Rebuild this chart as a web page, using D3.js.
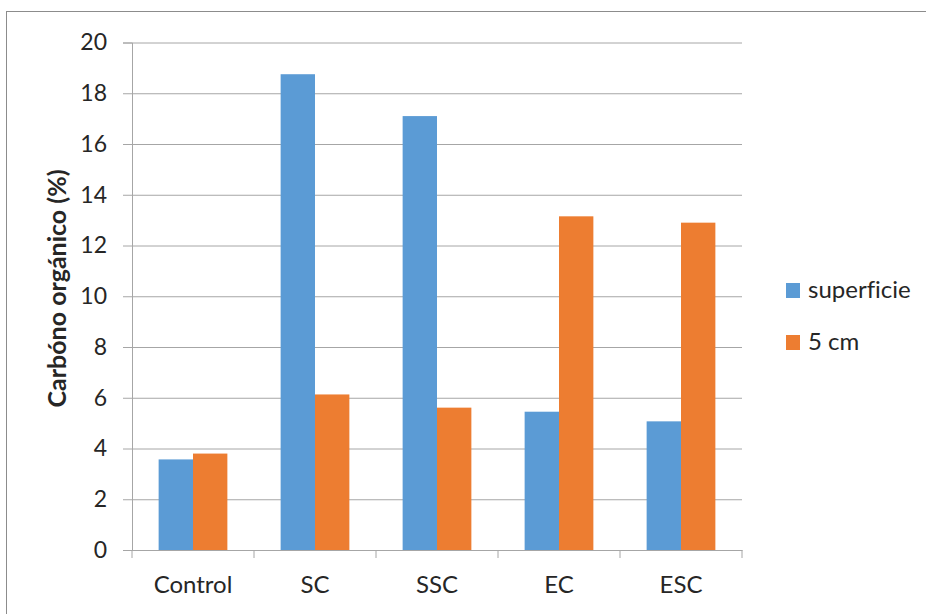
<!DOCTYPE html>
<html>
<head>
<meta charset="utf-8">
<script src="https://cdn.jsdelivr.net/npm/d3@7"></script>
<style>
  html, body { margin: 0; padding: 0; background: #fff; }
  svg { display: block; }
  text { font-family: Lato, "Open Sans", sans-serif; fill: #262626; font-variant-ligatures: none; }
</style>
</head>
<body>
<svg id="chart" width="926" height="614"></svg>
<script>
// Organic carbon by treatment, at the surface and at 5 cm depth
const categories = ["Control", "SC", "SSC", "EC", "ESC"];
const seriesNames = ["superficie", "5 cm"];
const superficie = [3.57, 18.75, 17.1, 5.45, 5.07];
const cm5 = [3.8, 6.13, 5.61, 13.15, 12.9];
const yTicks = [0, 2, 4, 6, 8, 10, 12, 14, 16, 18, 20];
const colors = ["#5B9BD5", "#ED7D31"];

const svg = d3.select("#chart");
const plot = { left: 132, right: 742, top: 42.5, bottom: 550 };
const gridColor = "#a6a6a6";
const fontStack = "Lato, 'Open Sans', sans-serif";

// chart frame
svg.append("rect")
  .attr("x", 6.5).attr("y", 11.5)
  .attr("width", 1000).attr("height", 1000)
  .attr("fill", "none").attr("stroke", "#8c8c8c").attr("stroke-width", 1);

const x0 = d3.scaleBand().domain(categories).range([plot.left, plot.right]).padding(0);
const x1 = d3.scaleBand().domain(seriesNames).range([0, x0.bandwidth()]).paddingInner(0).paddingOuter(0.775);
const y = d3.scaleLinear().domain([0, 20]).range([plot.bottom, plot.top]);

// value axis with horizontal gridlines
const yAxis = svg.append("g")
  .attr("transform", `translate(${plot.left},0)`)
  .call(d3.axisLeft(y).tickValues(yTicks).tickSize(9).tickPadding(16).tickFormat(d3.format("d")));
yAxis.select(".domain").attr("stroke", gridColor);
yAxis.selectAll(".tick line").attr("stroke", gridColor);
yAxis.selectAll(".tick").append("line")
  .attr("x1", 0).attr("x2", plot.right - plot.left)
  .attr("stroke", gridColor);
yAxis.selectAll("text").attr("font-size", 23).attr("fill", "#262626")
  .style("font-family", fontStack);

// bars
const groups = svg.append("g").selectAll("g")
  .data(categories)
  .join("g")
  .attr("transform", d => `translate(${x0(d)},0)`);

groups.selectAll("rect")
  .data((d, i) => [
    { s: seriesNames[0], v: superficie[i] },
    { s: seriesNames[1], v: cm5[i] }
  ])
  .join("rect")
  .attr("x", d => x1(d.s))
  .attr("width", x1.bandwidth())
  .attr("y", d => y(d.v))
  .attr("height", d => y(0) - y(d.v))
  .attr("fill", (d, i) => colors[i]);

// category axis
const xAxis = svg.append("g")
  .attr("transform", `translate(0,${plot.bottom})`)
  .call(d3.axisBottom(x0).tickSize(0));
xAxis.select(".domain").attr("stroke", gridColor);
xAxis.selectAll("text")
  .attr("y", 43).attr("dy", null)
  .attr("font-size", 24).attr("fill", "#262626")
  .style("font-family", fontStack);

// category boundary ticks
const bounds = categories.map(c => x0(c)).concat([plot.right]);
svg.append("g").selectAll("line")
  .data(bounds)
  .join("line")
  .attr("x1", d => d).attr("x2", d => d)
  .attr("y1", plot.bottom).attr("y2", plot.bottom + 8)
  .attr("stroke", gridColor);

// value axis title
svg.append("text")
  .attr("transform", `translate(66,288.5) rotate(-90)`)
  .attr("text-anchor", "middle")
  .attr("font-size", 25)
  .attr("font-weight", "bold")
  .text("Carbóno orgánico (%)");

// legend
const legend = svg.append("g").selectAll("g")
  .data(seriesNames)
  .join("g")
  .attr("transform", (d, i) => `translate(786,${283 + i * 52})`);
legend.append("rect")
  .attr("width", 14).attr("height", 15)
  .attr("fill", (d, i) => colors[i]);
legend.append("text")
  .attr("x", 22).attr("y", 14.5)
  .attr("font-size", 24)
  .text(d => d);
</script>
</body>
</html>
